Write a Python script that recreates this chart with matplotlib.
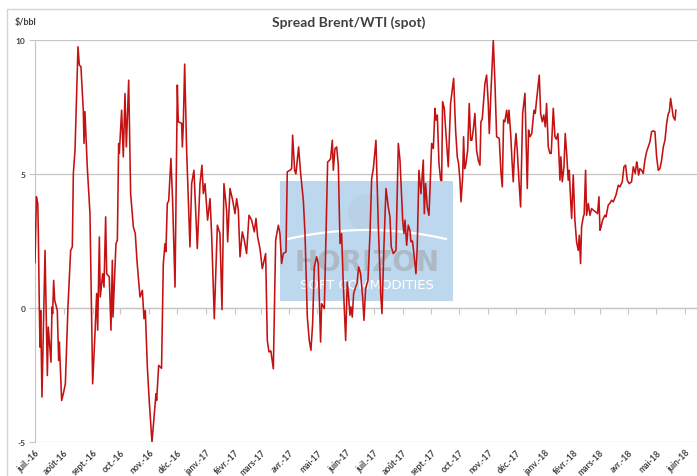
import matplotlib
matplotlib.use('Agg')
import matplotlib.pyplot as plt
import pandas as pd
import numpy as np
from matplotlib.patches import Rectangle, Circle

# ---------------- data ----------------
start_date = '2016-07-01'
day_offsets = [
    0, 1.5, 3, 3.6, 4.7, 5.4, 6.1, 7.5, 10.8, 13.3, 14.3, 17.2, 18.3, 19.0, 20.1, 21.2, 24.0, 25.5, 26.2, 28.7,
    30.5, 32.7, 35.5, 38.4, 40.2, 41.3, 43.1, 46.3, 47.7, 49.5, 52.0, 52.8, 53.8, 56.3, 59.2, 62.1, 64.6, 66.4,
    67.5, 69.3, 70.3, 72.9, 74.3, 76.1, 77.2, 80.0, 81.8, 83.3, 84.0, 87.2, 88.7, 90.1, 90.8, 93.3, 95.1, 96.9,
    98.4, 100.9, 103.0, 105.9, 108.0, 109.8, 113.1, 115.6, 117.4, 118.8, 121.0, 123.1, 126.0, 130.3, 131.0,
    133.2, 136.3, 138.2, 140.0, 141.0, 142.5, 144.0, 146.4, 148.2, 150.8, 153.3, 154.3, 157.9, 158.7, 159.7,
    161.2, 163.3, 166.9, 168.7, 171.2, 174.8, 177.7, 179.8, 181.3, 183.1, 185.9, 188.5, 190.2, 193.1, 196.4,
    199.2, 201.4, 203.5, 206.4, 207.5, 210.0, 212.9, 215.4, 217.2, 219.0, 220.8, 223.3, 225.4, 227.9, 230.5,
    233.3, 236.2, 238.0, 239.8, 242.3, 244.8, 248.4, 250.2, 252.0, 254.0, 256.7, 259.2, 262.1, 263.8, 265.6,
    267.4, 270.3, 271.7, 274.6, 276.4, 277.5, 279.6, 281.0, 283.9, 286.1, 289.0, 290.8, 293.3, 295.4, 297.2,
    299.0, 300.8, 303.3, 305.1, 307.6, 308.7, 311.6, 313.4, 315.2, 317.0, 318.4, 320.2, 321.3, 323.1, 324.9,
    326.7, 328.5, 330.2, 332.0, 334.6, 336.3, 337.8, 339.2, 340.3, 341.7, 343.2, 345.3, 346.8, 348.6, 350.7,
    352.9, 354.3, 356.1, 358.6, 360.8, 362.6, 364.4, 367.2, 369.7, 372.3, 373.7, 375.8, 378.0, 380.5, 382.3,
    383.7, 385.9, 388.8, 391.3, 393.1, 396.0, 397.4, 398.5, 400.3, 402.0, 403.8, 404.9, 406.5, 408.1, 410.3,
    411.7, 413.5, 415.7, 418.2, 419.3, 420.7, 422.5, 424.3, 425.4, 427.2, 429.0, 430.8, 431.8, 433.3, 435.1,
    436.9, 438.0, 439.0, 440.8, 442.6, 445.1, 447.6, 450.9, 453.0, 454.8, 456.2, 457.7, 458.8, 460.6, 461.6,
    462.7, 464.0, 466.0, 467.7, 469.2, 470.5, 472.0, 473.8, 475.6, 477.4, 479.2, 480.3, 481.7, 484.6, 486.4,
    488.2, 489.3, 491.1, 493.6, 495.4, 497.2, 500.0, 501.8, 503.3, 504.7, 506.0, 508.0, 509.4, 510.5, 512.3,
    513.7, 515.1, 516.6, 518.0, 519.4, 521.2, 523.0, 525.2, 527.7, 528.8, 530.2, 531.6, 533.1, 535.0, 537.4,
    538.8, 540.2, 543.1, 544.6, 546.4, 548.0, 549.6, 551.0, 552.8, 554.6, 556.0, 558.2, 560.0, 561.5, 563.2,
    564.3, 565.4, 566.4, 567.9, 569.7, 571.1, 572.6, 574.3, 575.4, 576.9, 578.0, 579.7, 581.5, 583.3, 585.1,
    586.2, 587.6, 588.7, 590.5, 591.5, 593.0, 594.1, 595.9, 597.7, 599.5, 601.3, 603.8, 605.9, 607.4, 608.5,
    609.5, 611.3, 613.8, 615.0, 617.4, 619.0, 621.0, 622.8, 625.7, 628.2, 630.0, 632.5, 634.3, 636.1, 637.9,
    640.0, 642.5, 644.4, 646.5, 648.0, 649.0, 650.1, 651.5, 653.3, 655.1, 656.9, 658.7, 660.5, 662.3, 664.1,
    665.9, 667.7, 669.5, 671.3, 673.1, 674.9, 676.7, 678.5, 680.3, 682.1, 683.2, 684.6, 685.6, 687.4, 689.2,
    690.3,
]
spread = [
    1.7, 4.15, 3.9, 2.78, -0.09, -1.46, -0.09, -3.32, 2.15, -2.52, -0.71, -2.02, 0.04, -0.21, 1.03, 0.29, -0.09, -1.96, -1.27, -3.45,
    -3.2, -2.83, 0.04, 2.15, 2.28, 5.02, 5.89, 9.75, 9.07, 9.0, 7.38, 6.14, 7.33, 5.27, 3.52, -2.83, -0.96, 0.54,
    -0.83, 2.65, 0.41, 1.28, 0.78, 3.4, 1.28, 1.16, -0.83, 1.78, -0.34, 2.4, 2.53, 6.14, 5.77, 7.38, 5.64, 8.0,
    6.01, 8.5, 4.27, 3.03, 2.78, 1.78, 0.41, 0.66, -0.4, -0.09, -2.2, -3.51, -5.0, -3.2, -3.45,
    -2.14, -2.25, 1.66, 2.4, 2.1, 3.9, 4.0, 5.58, 4.02, 0.78, 8.32, 6.95, 6.89, 6.01, 6.82,
    9.1, 5.89, 2.28, 4.64, 5.14, 2.22, 4.64, 5.33, 4.27, 4.64, 3.28, 4.08, 2.78, -0.4, 3.09,
    2.78, -0.06, 4.64, 3.65, 2.47, 4.46, 4.02, 3.52, 4.08, 3.65, 1.91, 2.84, 2.53, 2.03, 3.46,
    3.28, 2.84, 3.34, 2.65, 2.22, 1.47, 2.03, -1.21, -1.64, -1.6, -2.27, 2.53, 3.09, 2.78, 1.66,
    2.03, 2.09, 5.08, 5.14, 5.2, 6.45, 5.14, 5.0, 6.01, 5.02, 4.02, 2.78, -0.34, -1.21, -1.58,
    -0.59, 1.53, 1.91, 1.66, -1.27, 0.16, -0.02, 2.78, 5.45, 5.5, 5.58, 6.26, 5.14, 5.95, 6.01,
    5.33, 2.4, 2.78, 0.91, -1.21, 0.97, 0.41, -0.27, 0.04, -0.34, 0.54, 0.78, 0.91, 1.53, 1.28,
    0.41, -0.46, 0.72, 1.03, 2.78, 4.83, 5.2, 6.26, 3.15, 0.54, -0.21, 2.28, 4.46, 3.77, 3.4,
    2.28, 2.03, 2.15, 6.14, 5.52, 3.28, 2.78, 3.28, 2.34, 3.09, 2.9, 2.47, 2.5, 2.03, 1.28,
    2.28, 5.14, 4.27, 5.52, 3.52, 4.64, 3.77, 3.46, 4.4, 6.14, 5.95, 7.45, 7.01, 7.2, 5.39,
    4.77, 4.75, 7.7, 7.45, 6.51, 5.27, 7.63, 8.57, 6.64, 5.64, 5.39, 4.77, 3.96, 4.89, 6.39,
    5.2, 5.35, 5.89, 7.63, 6.26, 6.26, 6.64, 7.26, 5.89, 5.52, 5.33, 6.95, 7.05, 8.38, 8.69,
    7.63, 6.51, 8.07, 10.0, 8.38, 6.39, 6.33, 5.08, 4.52, 7.01, 6.95, 7.38, 6.89, 7.38, 6.51,
    5.52, 4.71, 5.89, 6.51, 5.89, 4.77, 3.77, 7.26, 8.01, 6.51, 4.46, 6.64, 6.39, 6.51, 7.38,
    7.26, 7.76, 8.69, 7.26, 6.95, 7.2, 6.76, 7.63, 6.01, 5.77, 5.77, 7.45, 6.39, 6.3, 6.51,
    5.7, 4.77, 5.64, 4.71, 5.27, 6.51, 5.77, 4.77, 5.14, 4.02, 3.34, 4.96, 3.28, 2.47, 2.15,
    2.71, 1.66, 3.03, 3.4, 3.5, 5.14, 3.46, 3.9, 3.46, 3.71, 3.65, 3.59, 3.52, 4.15, 2.9,
    3.0, 3.28, 3.46, 3.4, 3.84, 3.9, 4.02, 3.96, 4.21, 4.58, 4.52, 4.71, 5.27, 5.33, 4.77,
    4.64, 4.71, 5.27, 5.02, 5.45, 5.27, 4.96, 5.2, 5.14, 5.02, 5.52, 5.83, 6.01, 6.2, 6.58,
    6.61, 6.58, 5.64, 5.14, 5.2, 5.52, 6.01, 6.26, 6.89, 7.26, 7.32, 7.82, 7.57, 7.14, 7.01,
    7.38,
]
month_labels = ['juil.-16', 'août-16', 'sept.-16', 'oct.-16', 'nov.-16', 'déc.-16',
                'janv.-17', 'févr.-17', 'mars-17', 'avr.-17', 'mai-17', 'juin-17',
                'juil.-17', 'août-17', 'sept.-17', 'oct.-17', 'nov.-17', 'déc.-17',
                'janv.-18', 'févr.-18', 'mars-18', 'avr.-18', 'mai-18', 'juin-18']
y_ticks = [-5, 0, 5, 10]
title = 'Spread Brent/WTI (spot)'
unit_label = '$/bbl'

# ---------------- figure ----------------
plt.rcParams['font.family'] = ['Lato', 'DejaVu Sans']
W, H = 697, 477
fig = plt.figure(figsize=(W / 100, H / 100), dpi=100)
fig.patch.set_facecolor('white')

dates = pd.Timestamp(start_date) + pd.to_timedelta(day_offsets, unit='D')
month_ticks = pd.date_range(start_date, periods=len(month_labels), freq='MS')

GRID = '#c6c6c6'
TXT = '#404040'

# overlay axes in pixel coords for border + watermark
wm = fig.add_axes([0, 0, 1, 1], zorder=0)
wm.set_xlim(0, W)
wm.set_ylim(H, 0)
wm.axis('off')
wm.add_patch(Rectangle((7, 10), 720, 500, fill=False, edgecolor='#d4d4d4', lw=1.0))
wm.add_patch(Rectangle((280, 182), 173, 120, facecolor='#bdd7ee', edgecolor='none'))
wm.add_patch(Circle((367, 214), 19, facecolor='#b4cbe0', edgecolor='none', alpha=0.45))
xs = np.linspace(288, 446, 60)
wm.plot(xs, 240 - 9 * (1 - ((xs - 367) / 79) ** 2), color='white', lw=1.6)
wm.text(367, 271, 'HORIZON', ha='center', va='baseline', fontsize=20, fontweight='bold',
        color='#adb9c5', family='DejaVu Sans')
wm.text(367, 289, 'SOFT COMMODITIES', ha='center', va='baseline', fontsize=9.5,
        color='white', family='DejaVu Sans')

ax = fig.add_axes([35 / W, 1 - 443 / H, 1 - 35 / W, (443 - 41) / H], zorder=1)
ax.patch.set_visible(False)
ax.plot(dates, spread, color='#c41212', lw=1.15, zorder=3)

ax.set_ylim(-5, 10)
ax.set_xlim(pd.Timestamp(start_date), pd.Timestamp(start_date) + pd.Timedelta(days=713))
ax.set_yticks(y_ticks)
ax.set_yticklabels([str(v) for v in y_ticks])
ax.yaxis.grid(True, color=GRID, lw=0.9)
ax.set_axisbelow(True)
for s in ['top', 'right', 'bottom']:
    ax.spines[s].set_visible(False)
ax.spines['left'].set_color(GRID)
ax.tick_params(axis='y', length=4, color=GRID, labelsize=6, labelcolor=TXT, pad=3)
for lab in ax.get_yticklabels():
    lab.set_fontweight('bold')

ax.set_xticks(month_ticks)
ax.set_xticklabels(month_labels, rotation=45, ha='right', rotation_mode='anchor')
ax.tick_params(axis='x', length=0, labelsize=6.2, labelcolor=TXT, pad=4)
for lab in ax.get_xticklabels():
    lab.set_fontweight('bold')

# horizontal axis line at 0 with month ticks
sec = ax.secondary_xaxis(5 / 15)
sec.set_xticks(month_ticks)
sec.set_xticklabels([])
sec.tick_params(axis='x', length=4, color=GRID, direction='out')
sec.spines['bottom'].set_color(GRID)
sec.spines['bottom'].set_linewidth(0.9)

fig.text(349 / W, 1 - 23 / H, title, ha='center', va='center', fontsize=10,
         fontweight='bold', color=TXT)
fig.text(15 / W, 1 - 23 / H, unit_label, ha='left', va='center', fontsize=6.5,
         fontweight='bold', color=TXT)

fig.savefig('out.png', dpi=100, facecolor='white')
